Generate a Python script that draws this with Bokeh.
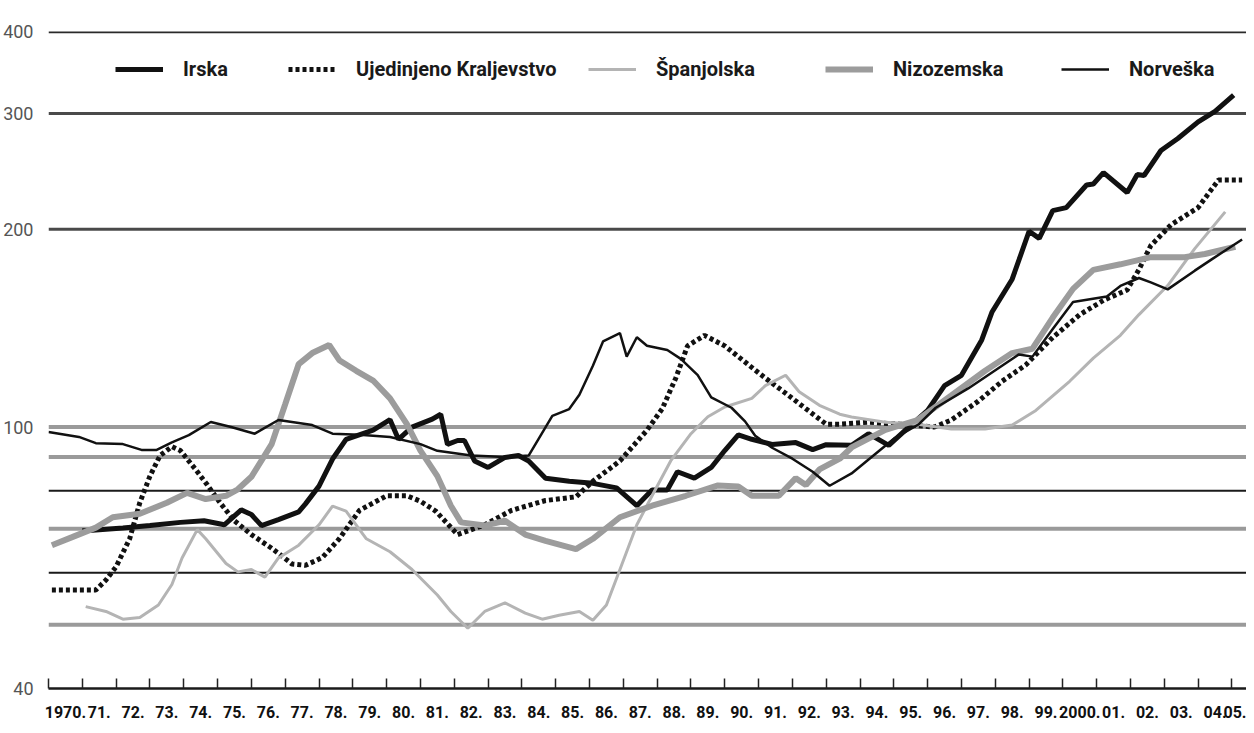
from bokeh.plotting import figure
from bokeh.models import (Range1d, FixedTicker, Span, Legend, LegendItem, BasicTickFormatter)
from bokeh.embed import file_html
from bokeh.resources import INLINE

# ---------------- data ----------------
years = list(range(1970, 2006))
year_labels = ["1970.", "71.", "72.", "73.", "74.", "75.", "76.", "77.", "78.", "79.",
               "80.", "81.", "82.", "83.", "84.", "85.", "86.", "87.", "88.", "89.",
               "90.", "91.", "92.", "93.", "94.", "95.", "96.", "97.", "98.", "99.",
               "2000.", "01.", "02.", "03.", "04.", "05."]
y_ticks = [40, 100, 200, 300, 400]
grid_levels = [400, 300, 200, 100, 90, 80, 70, 60, 50]

irska_t = [1971.0, 1971.2, 1972.2, 1973.0, 1973.9, 1974.6, 1975.2, 1975.7, 1976.0, 1976.3,
           1976.8, 1977.4, 1977.6, 1978.0, 1978.4, 1978.8, 1979.6, 1980.1, 1980.35, 1980.75,
           1981.35, 1981.6, 1981.8, 1982.1, 1982.3, 1982.6, 1983.0, 1983.5, 1983.9, 1984.2,
           1984.7, 1985.4, 1986.1, 1986.8, 1987.4, 1987.85, 1988.3, 1988.6, 1989.1, 1989.6,
           1990.0, 1990.4, 1990.8, 1991.4, 1992.1, 1992.6, 1993.0, 1993.75, 1994.25, 1994.85,
           1995.35, 1996.0, 1996.5, 1997.0, 1997.6, 1997.9, 1998.5, 1999.0, 1999.3, 1999.7,
           2000.1, 2000.7, 2000.9, 2001.2, 2001.9, 2002.2, 2002.4, 2002.9, 2003.4, 2004.0,
           2004.5, 2005.05]
irska_v = [69.5, 69.6, 70.2, 70.8, 71.6, 72.0, 71.0, 74.8, 73.6, 70.8,
           72.3, 74.3, 76.4, 81.3, 89.4, 95.8, 98.9, 102.6, 95.8, 100.0,
           102.8, 104.6, 94.1, 95.4, 95.4, 88.8, 86.8, 89.9, 90.5, 88.8,
           83.6, 82.7, 82.1, 80.8, 75.9, 80.2, 80.2, 85.5, 83.6, 86.8,
           92.1, 97.3, 95.8, 94.1, 94.7, 92.4, 94.0, 93.8, 97.7, 93.8,
           99.0, 106.0, 115.6, 119.9, 135.7, 149.5, 167.9, 198.6, 193.7, 213.5,
           215.8, 233.6, 234.4, 243.9, 227.5, 242.4, 241.5, 263.6, 274.9, 291.4,
           302.3, 320.0]

uk_t = [1970.1, 1970.7, 1971.4, 1971.7, 1972.0, 1972.4, 1972.7, 1973.0, 1973.3, 1973.65,
        1973.9, 1974.35, 1974.7, 1975.1, 1975.5, 1976.0, 1976.6, 1977.2, 1977.6, 1978.1,
        1978.6, 1979.2, 1980.0, 1980.6, 1981.0, 1981.45, 1982.1, 1982.9, 1983.7, 1984.7,
        1985.6, 1986.1, 1986.9, 1987.7, 1988.15, 1988.55, 1988.9, 1989.4, 1990.0, 1990.6,
        1991.2, 1991.8, 1992.4, 1993.0, 1993.4, 1994.25, 1995.2, 1996.2, 1996.7, 1997.5,
        1998.2, 1998.9, 1999.7, 2000.5, 2001.2, 2001.9, 2002.25, 2002.6, 2003.2, 2004.0,
        2004.6, 2005.3]
uk_v = [56.5, 56.5, 56.5, 58.5, 61.3, 67.6, 76.7, 84.2, 90.5, 93.4,
        92.1, 86.2, 81.6, 76.4, 72.0, 68.6, 65.4, 61.9, 61.6, 63.3,
        67.6, 74.7, 78.6, 78.6, 77.1, 74.5, 68.6, 71.0, 74.7, 77.3,
        78.3, 82.7, 88.8, 98.9, 106.6, 118.7, 132.9, 137.9, 132.9, 125.6,
        118.7, 112.6, 106.6, 101.0, 101.0, 101.7, 101.0, 100.0, 102.5, 109.5,
        117.4, 124.3, 136.9, 148.3, 155.9, 161.7, 173.7, 188.9, 203.2, 215.8,
        237.7, 237.7]

spanjolska_t = [1971.1, 1971.7, 1972.2, 1972.7, 1973.25, 1973.65, 1973.95, 1974.4, 1974.65, 1975.25,
                1975.6, 1976.0, 1976.4, 1976.8, 1977.4, 1978.0, 1978.4, 1978.8, 1979.4, 1980.1,
                1980.75, 1981.5, 1981.9, 1982.4, 1982.9, 1983.5, 1984.1, 1984.6, 1985.1, 1985.7,
                1986.1, 1986.5, 1986.9, 1987.4, 1987.85, 1988.4, 1989.0, 1989.5, 1990.0, 1990.8,
                1991.2, 1991.8, 1992.2, 1992.8, 1993.4, 1993.75, 1994.75, 1995.7, 1996.7, 1997.7,
                1998.5, 1999.2, 2000.2, 2000.9, 2001.7, 2002.25, 2003.1, 2003.9, 2004.8]
spanjolska_v = [53.3, 52.4, 51.0, 51.3, 53.6, 57.6, 63.2, 69.8, 67.6, 62.0,
                60.2, 60.7, 59.1, 63.2, 66.1, 71.0, 75.8, 74.5, 67.6, 64.6,
                60.7, 55.5, 52.4, 49.4, 52.4, 54.0, 52.1, 51.0, 51.7, 52.4,
                50.8, 53.6, 60.7, 71.0, 78.6, 88.8, 97.7, 103.7, 107.3, 110.6,
                115.6, 119.9, 113.2, 107.9, 104.6, 103.6, 101.7, 101.0, 99.3, 99.3,
                100.7, 106.0, 117.4, 127.3, 137.9, 148.3, 164.2, 186.9, 212.6]

nizozemska_t = [1970.1, 1970.7, 1971.4, 1971.9, 1972.7, 1973.5, 1974.1, 1974.65, 1975.25, 1975.6,
                1976.0, 1976.6, 1977.0, 1977.4, 1977.8, 1978.3, 1978.6, 1979.1, 1979.6, 1980.1,
                1980.6, 1981.0, 1981.5, 1981.9, 1982.2, 1982.9, 1983.5, 1984.1, 1984.7, 1985.6,
                1986.1, 1986.9, 1987.85, 1988.85, 1989.8, 1990.4, 1990.8, 1991.6, 1992.1, 1992.4,
                1992.8, 1993.4, 1993.75, 1994.75, 1995.7, 1996.7, 1997.7, 1998.5, 1999.1, 1999.7,
                2000.3, 2000.9, 2001.7, 2002.6, 2003.6, 2004.2, 2005.1]
nizozemska_v = [66.1, 68.0, 70.3, 72.9, 73.8, 76.7, 79.4, 77.7, 78.6, 80.4,
                84.0, 94.2, 108.3, 124.7, 129.6, 133.3, 126.4, 121.8, 117.7, 110.6,
                101.0, 92.1, 84.2, 75.9, 71.6, 70.8, 72.0, 68.6, 67.1, 65.2,
                67.6, 72.9, 75.9, 78.6, 81.5, 81.2, 78.6, 78.6, 83.6, 81.6,
                86.2, 89.5, 93.1, 99.0, 102.5, 111.7, 121.8, 129.6, 131.6, 146.8,
                162.3, 173.5, 176.9, 181.4, 181.4, 183.4, 188.1]

norveska_t = [1970.0, 1970.9, 1971.4, 1972.2, 1972.75, 1973.2, 1973.65, 1974.15, 1974.8, 1975.4,
              1976.1, 1976.8, 1977.8, 1978.4, 1979.2, 1980.1, 1981.0, 1981.5, 1982.5, 1983.5,
              1984.2, 1984.9, 1985.4, 1985.7, 1986.1, 1986.4, 1986.9, 1987.1, 1987.4, 1987.7,
              1988.3, 1988.7, 1989.2, 1989.6, 1990.2, 1990.6, 1990.9, 1991.4, 1992.0, 1992.6,
              1993.1, 1993.75, 1995.0, 1995.74, 1996.24, 1997.2, 1998.2, 1998.7, 1999.1, 1999.7,
              2000.3, 2001.3, 2001.7, 2002.25, 2002.6, 2003.1, 2003.9, 2004.4, 2005.3]
norveska_v = [98.3, 96.6, 94.5, 94.2, 92.3, 92.3, 94.8, 97.2, 101.8, 100.0,
              97.7, 102.5, 100.7, 97.7, 97.3, 96.6, 94.2, 92.0, 90.5, 90.0,
              90.5, 104.0, 106.5, 112.0, 124.0, 135.0, 139.0, 128.0, 137.0, 133.0,
              131.0, 127.0, 120.0, 111.0, 107.0, 102.0, 97.0, 93.0, 89.5, 85.5,
              81.4, 85.0, 96.0, 101.0, 107.0, 114.5, 124.0, 129.0, 128.0, 141.0,
              155.0, 158.0, 164.0, 168.6, 166.0, 162.0, 173.0, 180.0, 193.0]

# ---------------- figure ----------------
FONT = "Roboto"

p = figure(width=1246, height=723, y_axis_type="log",
           x_range=Range1d(1970, 2005.43), y_range=Range1d(40, 400),
           output_backend="svg", toolbar_location=None,
           min_border_left=48, min_border_right=0, min_border_top=31, min_border_bottom=35)
p.outline_line_color = None
p.xgrid.visible = False
p.ygrid.visible = False
p.background_fill_color = "white"

grid_style = {400: ("#2a2a2a", 3.5), 300: ("#4a4a4a", 3), 200: ("#4a4a4a", 3),
              100: ("#9a9a9a", 4), 90: ("#9a9a9a", 4), 80: ("#1a1a1a", 2),
              70: ("#9a9a9a", 4), 60: ("#1a1a1a", 2), 50: ("#9a9a9a", 4)}
for lv in grid_levels:
    c, w = grid_style[lv]
    p.add_layout(Span(location=lv, dimension="width", line_color=c, line_width=w,
                      level="underlay"))

# y axis
p.yaxis.ticker = FixedTicker(ticks=y_ticks)
p.yaxis.formatter = BasicTickFormatter()
p.yaxis.axis_line_color = None
p.yaxis.major_tick_line_color = None
p.yaxis.minor_tick_line_color = None
p.yaxis.major_label_standoff = 9
p.yaxis.major_label_text_font = FONT
p.yaxis.major_label_text_font_size = "18px"
p.yaxis.major_label_text_color = "#555555"

# x axis: labels centred in the year intervals, tick marks (minor) at year boundaries
x_end = p.x_range.end
label_pos = [y + 0.5 if y + 1 <= x_end else (y + x_end) / 2 - 0.08 for y in years]
xa = p.xaxis[0]
xa.ticker = FixedTicker(ticks=label_pos, minor_ticks=years)
xa.major_label_overrides = {pos: lab for pos, lab in zip(label_pos, year_labels)}
xa.major_tick_line_color = None
xa.minor_tick_in = 10
xa.minor_tick_out = 0
xa.minor_tick_line_color = "#222222"
xa.minor_tick_line_width = 1.5
xa.axis_line_width = 2.5
xa.axis_line_color = "#1a1a1a"
xa.major_label_standoff = 11
xa.major_label_text_font = FONT
xa.major_label_text_font_size = "16px"
xa.major_label_text_font_style = "bold"
xa.major_label_text_color = "#111111"

# ---------------- series ----------------
r_irl = p.line(irska_t, irska_v, line_color="#111111", line_width=5)
r_uk = p.line(uk_t, uk_v, line_color="#111111", line_width=5, line_dash="4 3")
r_es = p.line(spanjolska_t, spanjolska_v, line_color="#b4b4b4", line_width=3)
r_nl = p.line(nizozemska_t, nizozemska_v, line_color="#9c9c9c", line_width=6)
r_no = p.line(norveska_t, norveska_v, line_color="#111111", line_width=2.5)

names = ["Irska", "Ujedinjeno Kraljevstvo", "Španjolska", "Nizozemska", "Norveška"]
rends = [r_irl, r_uk, r_es, r_nl, r_no]
leg_x = [67, 240, 540, 777, 1013]
for name, r, lx in zip(names, rends, leg_x):
    leg = Legend(items=[LegendItem(label=name, renderers=[r])], location=(lx, 607),
                 orientation="horizontal", padding=0, margin=0, spacing=0,
                 glyph_width=48, glyph_height=24, label_height=24, label_standoff=20,
                 label_text_font=FONT, label_text_font_size="20px",
                 label_text_font_style="bold", label_text_color="#1a1a1a",
                 border_line_color=None, background_fill_alpha=0)
    p.add_layout(leg, "center")

open("out.html", "w").write(file_html(p, INLINE))
